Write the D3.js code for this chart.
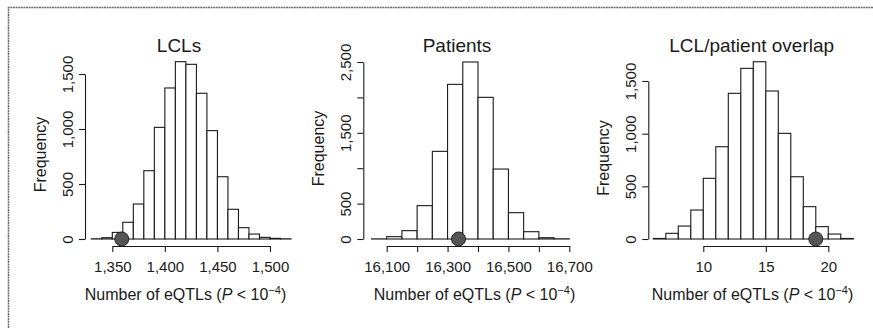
<!DOCTYPE html>
<html>
<head>
<meta charset="utf-8">
<script src="https://cdn.jsdelivr.net/npm/d3@7"></script>
<style>
  body { margin: 0; background: #fff; }
  svg { display: block; }
  text { font-family: "Liberation Sans", Arial, sans-serif; fill: #1a1a1a; }
</style>
</head>
<body>
<div id="chart"></div>
<script>
var width = 873;
var height = 328;

// LCLs permutation histogram (bin width 10)
var lclBinStarts = [1330, 1340, 1350, 1360, 1370, 1380, 1390, 1400, 1410, 1420, 1430, 1440, 1450, 1460, 1470, 1480, 1490, 1500, 1510];
var lclCounts = [2, 12, 60, 152, 318, 621, 1015, 1373, 1612, 1588, 1325, 985, 566, 270, 103, 45, 15, 6, 2];
var lclObserved = 1359;
var lclXTicks = [1350, 1400, 1450, 1500];
var lclXLabels = [1350, 1400, 1450, 1500];
var lclYTicks = [0, 500, 1000, 1500];
var lclYLabels = [0, 500, 1000, 1500];

// Patients permutation histogram (bin width 50)
var patientBinStarts = [16050, 16100, 16150, 16200, 16250, 16300, 16350, 16400, 16450, 16500, 16550, 16600, 16650];
var patientCounts = [2, 33, 118, 471, 1238, 2184, 2500, 2001, 988, 372, 103, 18, 3];
var patientObserved = 16336;
var patientXTicks = [16100, 16200, 16300, 16400, 16500, 16600, 16700];
var patientXLabels = [16100, 16300, 16500, 16700];
var patientYTicks = [0, 500, 1000, 1500, 2000, 2500];
var patientYLabels = [0, 500, 1500, 2500];

// overlap permutation histogram (bin width 1)
var overlapBinStarts = [6, 7, 8, 9, 10, 11, 12, 13, 14, 15, 16, 17, 18, 19, 20, 21];
var overlapCounts = [5, 54, 123, 275, 576, 876, 1383, 1620, 1683, 1405, 1003, 591, 307, 117, 47, 5];
var overlapObserved = 19;
var overlapXTicks = [10, 15, 20];
var overlapXLabels = [10, 15, 20];
var overlapYTicks = [0, 500, 1000, 1500];
var overlapYLabels = [0, 500, 1000, 1500];

var titles = ['LCLs', 'Patients', 'LCL/patient overlap'];

// layout of each panel (pixels)
var panels = [
    { title: titles[0], starts: lclBinStarts, counts: lclCounts, binWidth: 10, observed: lclObserved,
      xTicks: lclXTicks, xLabels: lclXLabels, yTicks: lclYTicks, yLabels: lclYLabels,
      xRange: [112.3, 270], yRange: [239, 74], axisX: 85, titleX: 179, labelX: 185.5 },
    { title: titles[1], starts: patientBinStarts, counts: patientCounts, binWidth: 50, observed: patientObserved,
      xTicks: patientXTicks, xLabels: patientXLabels, yTicks: patientYTicks, yLabels: patientYLabels,
      xRange: [386.7, 569.3], yRange: [239, 62], axisX: 363.3, titleX: 457, labelX: 474.5 },
    { title: titles[2], starts: overlapBinStarts, counts: overlapCounts, binWidth: 1, observed: overlapObserved,
      xTicks: overlapXTicks, xLabels: overlapXLabels, yTicks: overlapYTicks, yLabels: overlapYLabels,
      xRange: [703.3, 828.3], yRange: [239, 81], axisX: 648.3, titleX: 751.7, labelX: 752.5 }
];

var axisY = 246;
var ink = '#1a1a1a';
var fmt = d3.format(',');

var svg = d3.select('#chart').append('svg')
    .attr('width', width)
    .attr('height', height);

svg.append('rect').attr('width', width).attr('height', height).attr('fill', '#fff');

// scan frame: top and left edges only
svg.append('path')
    .attr('d', `M8.5,${height} L8.5,7.5 L${width},7.5`)
    .attr('fill', 'none')
    .attr('stroke', '#6a6a6a')
    .attr('stroke-width', 1.5)
    .attr('stroke-dasharray', '2,0.6');

panels.forEach(function (p) {
    var g = svg.append('g');

    var xScale = d3.scaleLinear()
        .domain([p.xTicks[0], p.xTicks[p.xTicks.length - 1]])
        .range(p.xRange);

    var yScale = d3.scaleLinear()
        .domain([p.yTicks[0], p.yTicks[p.yTicks.length - 1]])
        .range(p.yRange);

    // bars
    g.selectAll('rect.bar')
        .data(p.counts)
        .enter()
        .append('rect')
        .attr('class', 'bar')
        .attr('x', (d, i) => xScale(p.starts[i]))
        .attr('width', (d, i) => xScale(p.starts[i] + p.binWidth) - xScale(p.starts[i]))
        .attr('y', d => yScale(d))
        .attr('height', d => yScale(0) - yScale(d))
        .attr('fill', '#fff')
        .attr('stroke', ink)
        .attr('stroke-width', 1.1);

    // observed value marker
    g.append('circle')
        .attr('cx', xScale(p.observed))
        .attr('cy', yScale(0))
        .attr('r', 7)
        .attr('fill', '#555')
        .attr('stroke', '#222')
        .attr('stroke-width', 1);

    // x axis
    var xAxis = d3.axisBottom(xScale)
        .tickValues(p.xTicks)
        .tickSize(6)
        .tickSizeOuter(0)
        .tickFormat(d => p.xLabels.indexOf(d) >= 0 ? fmt(d) : '');

    var xg = g.append('g')
        .attr('transform', `translate(0, ${axisY})`)
        .call(xAxis);
    xg.selectAll('text')
        .attr('y', 26)
        .attr('dy', 0)
        .style('font-size', '15px')
        .attr('fill', ink);

    // y axis
    var yAxis = d3.axisLeft(yScale)
        .tickValues(p.yTicks)
        .tickSize(6)
        .tickSizeOuter(0)
        .tickFormat(d => p.yLabels.indexOf(d) >= 0 ? fmt(d) : '');

    var yg = g.append('g')
        .attr('transform', `translate(${p.axisX}, 0)`)
        .call(yAxis);
    yg.selectAll('text')
        .attr('transform', 'rotate(-90)')
        .attr('x', 0)
        .attr('y', -12)
        .attr('dy', 0)
        .attr('text-anchor', 'middle')
        .style('font-size', '15px')
        .attr('fill', ink);

    g.selectAll('.domain, .tick line').attr('stroke', ink).attr('stroke-width', 1.1);

    // title
    g.append('text')
        .attr('x', p.titleX)
        .attr('y', 52)
        .attr('text-anchor', 'middle')
        .style('font-size', '19px')
        .text(p.title);

    // y label
    g.append('text')
        .attr('transform', `translate(${p.axisX - 39}, ${(p.yRange[0] + p.yRange[1]) / 2 - 2}) rotate(-90)`)
        .attr('text-anchor', 'middle')
        .style('font-size', '16px')
        .text('Frequency');

    // x label
    var xl = g.append('text')
        .attr('x', p.labelX)
        .attr('y', 300)
        .attr('text-anchor', 'middle')
        .style('font-size', '16px');
    xl.append('tspan').text('Number of eQTLs (');
    xl.append('tspan').style('font-style', 'italic').text('P');
    xl.append('tspan').text(' < 10');
    xl.append('tspan').attr('dy', -6).style('font-size', '11px').text('\u22124');
    xl.append('tspan').attr('dy', 6).text(')');
});
</script>
</body>
</html>
